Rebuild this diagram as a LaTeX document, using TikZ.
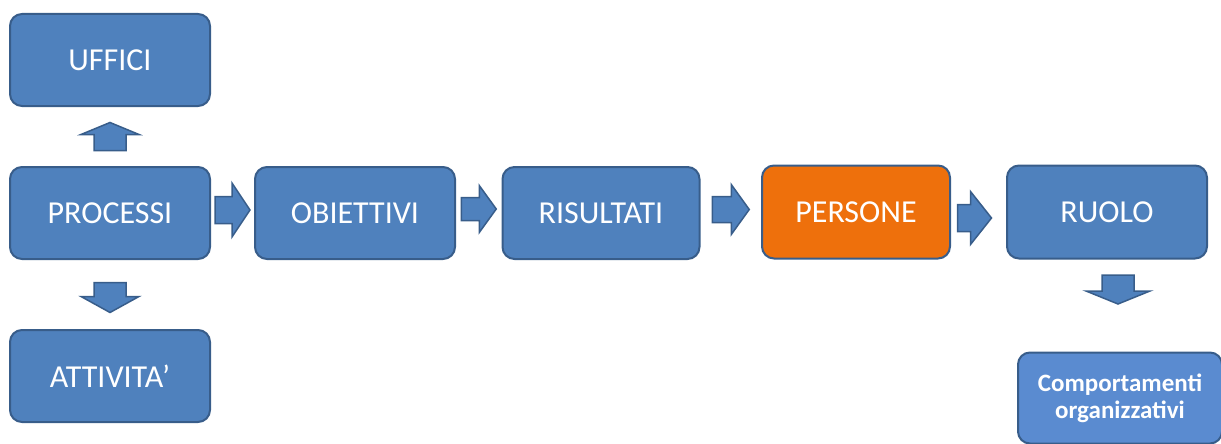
\documentclass[tikz,border=0pt]{standalone}
\usepackage{fontspec}
\setmainfont{Carlito}
\usetikzlibrary{calc}
\definecolor{boxblue}{HTML}{4F81BD}
\definecolor{boxline}{HTML}{385D8A}
\definecolor{boxorange}{RGB}{238,112,12}
\definecolor{boxlight}{HTML}{5A8BD0}
\tikzset{
  box/.style={draw=boxline, line width=2pt, fill=boxblue, rounded corners=12pt,
    minimum width=200pt, minimum height=92pt, inner sep=0pt, text=white,
    font=\fontsize{32}{38}\selectfont},
  arrowsty/.style={draw=boxline, line width=1.5pt, fill=boxblue, line join=miter},
  pics/barrow/.style args={#1/#2/#3/#4}{code={
    \filldraw[arrowsty] (-#1/2,-#3/2) -- (#1/2-#2,-#3/2) -- (#1/2-#2,-#4/2)
      -- (#1/2,0) -- (#1/2-#2,#4/2) -- (#1/2-#2,#3/2) -- (-#1/2,#3/2) -- cycle;
  }},
}
\begin{document}
\begin{tikzpicture}[x=1pt,y=-1pt]
\useasboundingbox (0,0) rectangle (1221,444);
\node[box] (uffici) at (110,60) {UFFICI};
\node[box] (processi) at (110,213) {PROCESSI};
\node[box] (attivita) at (110,376) {ATTIVITA'};
\node[box] (obiettivi) at (355,213) {OBIETTIVI};
\node[box, minimum width=197pt] (risultati) at (601,213) {RISULTATI};
\node[box, fill=boxorange, minimum width=188pt, minimum height=93pt] (persone) at (856,212) {PERSONE};
\node[box, minimum height=93pt] (ruolo) at (1107,212) {RUOLO};
\node[box, fill=boxlight, minimum width=204pt, minimum height=91pt, align=center,
  font=\bfseries\fontsize{25}{27}\selectfont] (comp) at (1120,398) {Comportamenti\\organizzativi};
% block arrows between the boxes
\pic (a1) at ($(processi.east)!0.5!(obiettivi.west)+(0,-3)$) {barrow={35/18/27/54}};
\pic (a2) at ($(obiettivi.east)!0.5!(risultati.west)+(0,-4)$) {barrow={35/17/23/47}};
\pic (a3) at ($(risultati.east)!0.5!(persone.west)+(0,-3)$) {barrow={37/18/26/50}};
\pic (a4) at ($(persone.east)!0.5!(ruolo.west)+(-4,6)$) {barrow={34/21/27/53}};
\pic[rotate=90] (up) at ($(uffici.south)!0.5!(processi.north)$) {barrow={28/12/32/58}};
\pic[rotate=-90] (dn1) at ($(processi.south)!0.5!(attivita.north)+(0,3)$) {barrow={30/16/32/58}};
\pic[rotate=-90] (dn2) at ($(ruolo.south)+(11,30)$) {barrow={29/13/32/64}};
\end{tikzpicture}
\end{document}
